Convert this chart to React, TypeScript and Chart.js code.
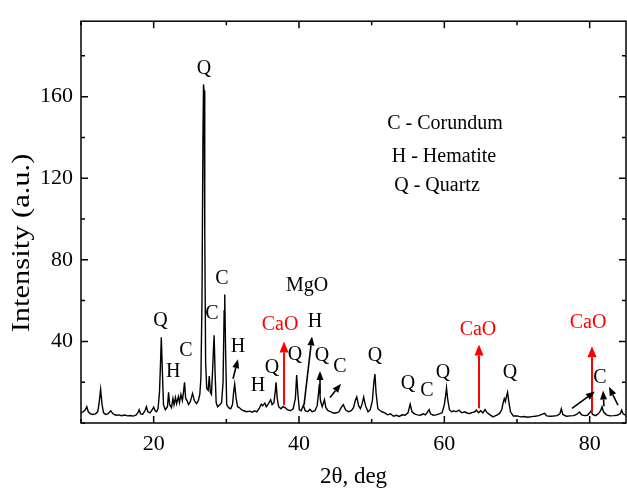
import React, { useEffect, useRef } from "react";
import { Chart, registerables } from "chart.js";

Chart.register(...registerables);

// 2θ positions (deg)
const twoTheta = [
  10.0, 10.3, 10.6, 10.8, 11.0, 11.3, 11.6, 12.0, 12.3, 12.5,
  12.7, 12.9, 13.1, 13.4, 13.7, 14.1, 14.4, 14.8, 15.2, 15.6,
  16.0, 16.4, 16.8, 17.2, 17.6, 17.9, 18.0, 18.2, 18.5, 18.8,
  19.0, 19.2, 19.5, 19.8, 20.0, 20.2, 20.4, 20.6, 20.8, 20.95,
  21.05, 21.2, 21.35, 21.6, 21.9, 22.05, 22.2, 22.45, 22.65, 22.8,
  23.0, 23.15, 23.4, 23.55, 23.75, 23.95, 24.1, 24.25, 24.4, 24.6,
  24.8, 25.05, 25.35, 25.6, 25.9, 26.15, 26.35, 26.5, 26.65, 26.78,
  26.86, 26.93, 27.03, 27.15, 27.3, 27.5, 27.65, 27.8, 27.95, 28.1,
  28.25, 28.32, 28.45, 28.6, 28.8, 29.1, 29.35, 29.55, 29.7, 29.78,
  29.9, 30.05, 30.3, 30.6, 30.85, 31.0, 31.15, 31.35, 31.55, 31.8,
  32.1, 32.4, 32.8, 33.2, 33.6, 33.9, 34.2, 34.5, 34.8, 35.0,
  35.3, 35.5, 35.8, 36.1, 36.3, 36.55, 36.75, 36.85, 37.0, 37.2,
  37.5, 37.8, 38.1, 38.4, 38.8, 39.2, 39.5, 39.68, 39.85, 40.05,
  40.3, 40.6, 40.85, 41.2, 41.5, 41.8, 42.2, 42.5, 42.7, 42.8,
  42.95, 43.2, 43.5, 43.7, 44.0, 44.4, 44.8, 45.2, 45.5, 45.8,
  46.1, 46.4, 46.8, 47.2, 47.5, 47.75, 47.95, 48.2, 48.45, 48.7,
  48.9, 49.15, 49.5, 49.8, 50.1, 50.3, 50.45, 50.6, 50.85, 51.2,
  51.4, 51.8, 52.2, 52.6, 53.0, 53.4, 53.8, 54.2, 54.6, 55.0,
  55.3, 55.55, 55.9, 56.3, 56.7, 57.1, 57.4, 57.7, 57.9, 58.1,
  58.5, 58.9, 59.3, 59.7, 60.0, 60.2, 60.3, 60.45, 60.7, 61.0,
  61.3, 61.6, 62.0, 62.4, 62.8, 63.2, 63.5, 63.9, 64.2, 64.4,
  64.7, 65.0, 65.3, 65.6, 65.9, 66.3, 66.7, 67.0, 67.3, 67.6,
  67.9, 68.1, 68.25, 68.4, 68.55, 68.7, 68.85, 69.1, 69.5, 70.0,
  70.5, 71.0, 71.5, 72.0, 72.5, 73.0, 73.4, 73.8, 74.1, 74.6,
  75.0, 75.5, 75.9, 76.1, 76.3, 76.8, 77.3, 77.8, 78.2, 78.6,
  78.9, 79.3, 79.7, 80.0, 80.2, 80.4, 80.8, 81.2, 81.5, 81.7,
  81.9, 82.3, 82.8, 83.3, 83.8, 84.2, 84.4, 84.6, 85.0,
];

// Intensity (a.u.)
const intensity = [
  5, 5.5, 6.5, 8, 5.5, 4.5, 4.2, 4.5, 5.5, 10,
  16.5, 9, 5, 4.2, 4.5, 6, 4.5, 3.8, 4.0, 3.6,
  3.9, 3.5, 3.7, 3.4, 4, 5.5, 6.5, 4.5, 4.3, 6,
  8, 5.5, 5, 6.5, 7.8, 6, 5.5, 7, 15, 30,
  42, 25, 9, 6.5, 8, 15, 9, 7.5, 12, 9,
  12.5, 9.5, 13, 10, 14, 11, 15, 20, 12, 11,
  9, 10.5, 14.5, 11, 9.5, 11, 14, 22, 60, 140,
  166, 163, 95, 30, 17, 16, 23, 15, 14, 25,
  38, 43, 25, 10, 8, 9, 10, 20, 55, 63,
  35, 9, 7.5, 7, 9, 15, 19, 12, 8, 7.5,
  6.5, 6, 5.5, 5.8, 5.3, 6.0, 5.5, 7, 9.2, 8.5,
  9.8, 8, 9.5, 11.4, 9, 10, 16, 20, 12, 8,
  7, 8, 7.5, 6.5, 6, 7, 12, 23.5, 14, 6.5,
  6, 8.7, 6, 5.5, 6.7, 5.5, 6, 8.5, 15, 19,
  11, 8, 11.4, 7.5, 6, 5.5, 4.8, 5, 5.5, 7.5,
  9, 6.5, 5.5, 6, 7.5, 11, 12.8, 8.5, 7, 9.5,
  12.7, 8.5, 5.5, 6.5, 11, 20, 24, 15, 7, 6,
  5.5, 5, 4, 4.5, 3.3, 3.8, 3.2, 4, 3.8, 5,
  9.2, 5.5, 4.5, 4, 3.8, 4.5, 4, 5.5, 6.6, 4.5,
  3.8, 4, 4.5, 5, 9, 14, 17.2, 12, 6.5, 5.5,
  6, 5.5, 6.3, 5, 5.5, 4.8, 4.7, 5.2, 5.5, 6.3,
  5, 6, 5, 6.6, 5, 4, 3.0, 3.5, 4, 4.7,
  6.5, 10, 11.9, 10.5, 13, 15, 11, 5.5, 3.4, 3.5,
  3, 3.2, 2.8, 3.1, 3.3, 3.6, 4.2, 4.7, 3.5, 3.3,
  3.4, 3.6, 4.5, 7, 4.2, 3.3, 3.5, 3.6, 4.2, 5.4,
  4, 3.6, 3.8, 5.0, 6, 4.2, 3.6, 4.5, 6, 8,
  5.5, 4, 3.5, 3.6, 3.8, 4.5, 6.3, 4.5, 3.8,
];

const xTitle = "2θ, deg";
const yTitle = "Intensity (a.u.)";
const xMajorLabels = [20, 40, 60, 80];
const yMajorLabels = [40, 80, 120, 160];

// Phase labels: text, 2θ, intensity (anchor centres), colour
const labelTexts = ["Q", "Q", "H", "C", "C", "C", "H", "H", "Q", "CaO", "Q", "MgO", "H", "Q", "C", "Q", "Q", "C", "Q", "CaO", "Q", "CaO", "C"];
const labelX = [26.93, 20.94, 22.7, 24.45, 28.03, 29.4, 31.6, 34.36, 36.28, 37.4, 39.45, 41.1, 42.2, 43.17, 45.64, 50.46, 55.0, 57.6, 59.8, 64.63, 69.04, 79.77, 81.42];
const labelY = [173.9, 50.1, 25.2, 35.2, 53.5, 70.8, 37.6, 18.3, 27.0, 48.2, 33.7, 67.4, 49.6, 32.8, 27.5, 33.2, 19.3, 15.9, 24.6, 45.8, 24.6, 49.1, 22.2];
const labelColors = ["#000", "#000", "#000", "#000", "#000", "#000", "#000", "#000", "#000", "#ff0000", "#000", "#000", "#000", "#000", "#000", "#000", "#000", "#000", "#000", "#ff0000", "#000", "#ff0000", "#000"];

// Key text
const keyTexts = ["C - Corundum", "H - Hematite", "Q - Quartz"];
const keyX = [60.09, 59.95, 58.99];
const keyY = [146.9, 130.5, 116.1];

// Arrows: from (x1,y1) to (x2,y2) in data units
const arrowX1 = [30.92, 37.94, 40.69, 42.89, 44.27, 64.77, 80.32, 77.57, 81.97, 83.9];
const arrowY1 = [21.7, 8.7, 8.7, 14.45, 12.5, 7.2, 5.3, 7.2, 8.2, 8.7];
const arrowX2 = [31.6, 37.94, 41.79, 42.89, 45.78, 64.77, 80.32, 80.73, 81.84, 82.66];
const arrowY2 = [31.3, 40.0, 42.4, 25.5, 19.3, 38.5, 37.6, 15.4, 15.9, 17.8];
const arrowRed = [false, true, false, false, false, true, true, false, false, false];

const FONT = '"Liberation Serif", "Times New Roman", serif';

function drawArrow(ctx: CanvasRenderingContext2D, x1: number, y1: number, x2: number, y2: number, red: boolean) {
  const color = red ? "#ff0000" : "#000";
  const hl = red ? 11 : 9;
  const hw = red ? 4.5 : 3.5;
  const ang = Math.atan2(y2 - y1, x2 - x1);
  const bx = x2 - hl * Math.cos(ang);
  const by = y2 - hl * Math.sin(ang);
  ctx.strokeStyle = color;
  ctx.fillStyle = color;
  ctx.lineWidth = red ? 2 : 1.6;
  ctx.beginPath();
  ctx.moveTo(x1, y1);
  ctx.lineTo(bx, by);
  ctx.stroke();
  ctx.beginPath();
  ctx.moveTo(x2, y2);
  ctx.lineTo(bx + hw * Math.sin(ang), by - hw * Math.cos(ang));
  ctx.lineTo(bx - hw * Math.sin(ang), by + hw * Math.cos(ang));
  ctx.closePath();
  ctx.fill();
}

const framePlugin = {
  id: "framePlugin",
  afterDraw(chart: any) {
    const { ctx, chartArea: a, scales } = chart;
    const xs = scales.x;
    const ys = scales.y;
    ctx.save();
    ctx.strokeStyle = "#000";
    ctx.lineWidth = 1.5;
    ctx.strokeRect(a.left, a.top, a.right - a.left, a.bottom - a.top);
    xs.ticks.forEach((t: any) => {
      const px = xs.getPixelForValue(t.value);
      const len = xMajorLabels.includes(t.value) ? 7 : 4;
      ctx.beginPath();
      ctx.moveTo(px, a.bottom);
      ctx.lineTo(px, a.bottom - len);
      ctx.moveTo(px, a.top);
      ctx.lineTo(px, a.top + len);
      ctx.stroke();
    });
    ys.ticks.forEach((t: any) => {
      const py = ys.getPixelForValue(t.value);
      const len = yMajorLabels.includes(t.value) ? 7 : 4;
      ctx.beginPath();
      ctx.moveTo(a.left, py);
      ctx.lineTo(a.left + len, py);
      ctx.moveTo(a.right, py);
      ctx.lineTo(a.right - len, py);
      ctx.stroke();
    });

    // arrows
    for (let i = 0; i < arrowX1.length; i++) {
      drawArrow(
        ctx,
        xs.getPixelForValue(arrowX1[i]),
        ys.getPixelForValue(arrowY1[i]),
        xs.getPixelForValue(arrowX2[i]),
        ys.getPixelForValue(arrowY2[i]),
        arrowRed[i]
      );
    }

    // phase labels
    ctx.font = `20px ${FONT}`;
    ctx.textAlign = "center";
    ctx.textBaseline = "middle";
    for (let i = 0; i < labelTexts.length; i++) {
      ctx.fillStyle = labelColors[i];
      ctx.fillText(labelTexts[i], xs.getPixelForValue(labelX[i]), ys.getPixelForValue(labelY[i]));
    }
    ctx.fillStyle = "#000";
    for (let i = 0; i < keyTexts.length; i++) {
      ctx.fillText(keyTexts[i], xs.getPixelForValue(keyX[i]), ys.getPixelForValue(keyY[i]));
    }

    // axis titles
    ctx.font = `23px ${FONT}`;
    ctx.fillStyle = "#000";
    ctx.fillText(xTitle, (a.left + a.right) / 2, 477);
    ctx.save();
    ctx.font = `25px ${FONT}`;
    ctx.translate(22, 243);
    ctx.rotate(-Math.PI / 2);
    ctx.scale(1.22, 1);
    ctx.fillText(yTitle, 0, 0);
    ctx.restore();
    ctx.restore();
  },
};

export default function App() {
  const ref = useRef<HTMLCanvasElement | null>(null);
  useEffect(() => {
    if (!ref.current) return;
    const points = twoTheta.map((x, i) => ({ x, y: intensity[i] }));
    const chart = new Chart(ref.current, {
      type: "line",
      data: {
        datasets: [
          {
            data: points,
            borderColor: "#000",
            borderWidth: 1.4,
            pointRadius: 0,
            tension: 0,
            fill: false,
          },
        ],
      },
      options: {
        animation: false,
        responsive: false,
        devicePixelRatio: 1,
        layout: { padding: { top: 14, right: 1, left: 0, bottom: 0 } },
        plugins: { legend: { display: false }, tooltip: { enabled: false } },
        scales: {
          x: {
            type: "linear",
            min: 10,
            max: 85,
            grid: { display: false, drawTicks: false },
            border: { display: false },
            ticks: {
              stepSize: 10,
              includeBounds: false,
              autoSkip: false,
              maxRotation: 0,
              padding: 8,
              color: "#000",
              font: { family: FONT, size: 22 },
              callback: (v: any) => (xMajorLabels.includes(Number(v)) ? String(v) : ""),
            },
            afterFit: (s: any) => {
              s.height = 65;
            },
          },
          y: {
            type: "linear",
            min: 0,
            max: 197,
            grid: { display: false, drawTicks: false },
            border: { display: false },
            ticks: {
              stepSize: 20,
              includeBounds: false,
              autoSkip: false,
              padding: 8,
              color: "#000",
              font: { family: FONT, size: 22 },
              callback: (v: any) => (yMajorLabels.includes(Number(v)) ? String(v) : ""),
            },
            afterFit: (s: any) => {
              s.width = 81;
            },
          },
        },
      },
      plugins: [framePlugin],
    });
    return () => chart.destroy();
  }, []);
  return (
    <div style={{ position: "absolute", left: 0, top: 0, width: 627, height: 488, background: "#fff" }}>
      <canvas ref={ref} width={627} height={488} style={{ display: "block" }} />
    </div>
  );
}
